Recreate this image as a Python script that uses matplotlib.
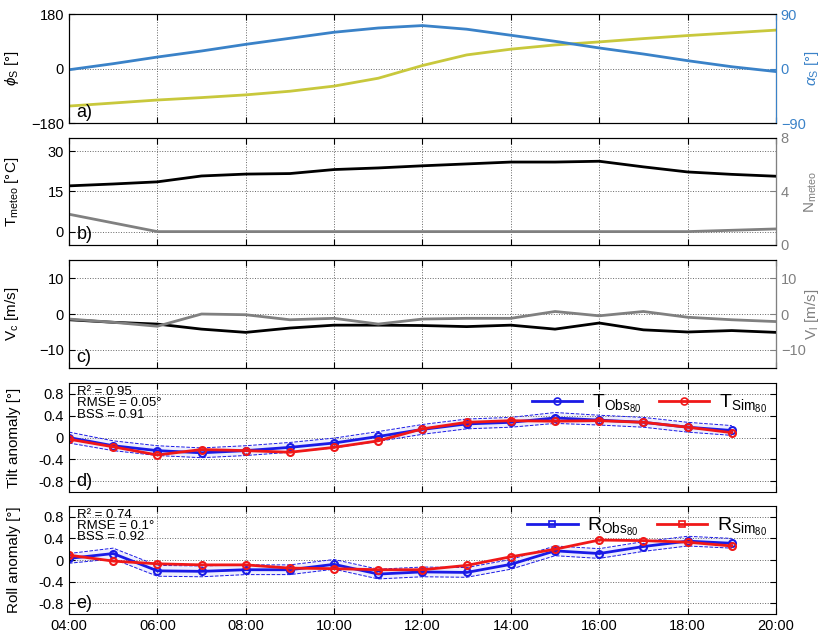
import matplotlib
matplotlib.use('Agg')
import matplotlib.pyplot as plt
from matplotlib.lines import Line2D

plt.rcParams['font.family'] = ['Liberation Sans', 'DejaVu Sans']
plt.rcParams['mathtext.fontset'] = 'custom'
plt.rcParams['mathtext.rm'] = 'Liberation Sans'
plt.rcParams['mathtext.it'] = 'Liberation Sans:italic'
plt.rcParams['mathtext.bf'] = 'Liberation Sans:bold'

# hourly values 04:00 .. 20:00
hours = [4, 5, 6, 7, 8, 9, 10, 11, 12, 13, 14, 15, 16, 17, 18, 19, 20]
sun_azimuth = [-124, -114, -104, -96, -87, -75, -58, -32, 10, 45, 64, 78, 88, 99, 109, 118, 127]
sun_elevation = [-2, 8, 19, 29, 40, 50, 60, 67, 71, 65, 55, 45, 34, 24, 13, 3, -5]
t_meteo = [17.1, 17.8, 18.6, 20.8, 21.5, 21.7, 23.2, 23.8, 24.6, 25.3, 26.0, 26.0, 26.3, 24.2, 22.3, 21.4, 20.7]
n_meteo = [2.3, 1.65, 1.0, 1.0, 1.0, 1.0, 1.0, 1.0, 1.0, 1.0, 1.0, 1.0, 1.0, 1.0, 1.0, 1.1, 1.2]
v_c = [-1.6, -2.3, -2.8, -4.2, -5.1, -3.9, -3.1, -3.1, -3.2, -3.5, -3.1, -4.2, -2.5, -4.4, -5.0, -4.6, -5.1]
v_l = [-1.4, -2.3, -3.4, 0.0, -0.2, -1.6, -1.2, -2.8, -1.4, -1.2, -1.2, 0.7, -0.5, 0.7, -0.9, -1.6, -2.1]

# anomalies 04:00 .. 19:00
obs_hours = [4, 5, 6, 7, 8, 9, 10, 11, 12, 13, 14, 15, 16, 17, 18, 19]
tilt_obs = [0.0, -0.15, -0.24, -0.28, -0.24, -0.18, -0.10, 0.02, 0.15, 0.25, 0.28, 0.36, 0.32, 0.28, 0.19, 0.13]
tilt_sim = [-0.03, -0.17, -0.32, -0.22, -0.24, -0.27, -0.18, -0.06, 0.16, 0.28, 0.31, 0.30, 0.31, 0.28, 0.19, 0.09]
tilt_err = [0.10, 0.09, 0.09, 0.09, 0.09, 0.09, 0.09, 0.09, 0.09, 0.09, 0.09, 0.10, 0.09, 0.09, 0.09, 0.09]
roll_obs = [0.03, 0.12, -0.20, -0.21, -0.18, -0.18, -0.08, -0.26, -0.22, -0.23, -0.08, 0.17, 0.12, 0.25, 0.35, 0.31]
roll_sim = [0.09, -0.02, -0.07, -0.09, -0.09, -0.15, -0.16, -0.18, -0.18, -0.10, 0.06, 0.20, 0.37, 0.36, 0.33, 0.26]
roll_err = [0.09, 0.10, 0.10, 0.10, 0.09, 0.09, 0.09, 0.09, 0.09, 0.09, 0.09, 0.09, 0.09, 0.09, 0.09, 0.09]

tilt_stats = 'R² = 0.95\nRMSE = 0.05°\nBSS = 0.91'
roll_stats = 'R² = 0.74\nRMSE = 0.1°\nBSS = 0.92'

YELLOW = '#c8c83c'
SKY = '#3a82c8'
GREY = '#808080'
BLUE = '#1a1ae6'
RED = '#f01818'

fig = plt.figure(figsize=(8.24, 6.37), dpi=100)
L, W = 0.0837, 0.858
rows = [(0.8069, 0.171), (0.6154, 0.168), (0.4223, 0.1695), (0.2276, 0.171), (0.0361, 0.1695)]
axes = [fig.add_axes([L, b, W, h]) for b, h in rows]


def style(ax, ylim, yticks, ylabels=None):
    ax.set_xlim(4, 20)
    ax.set_xticks(range(4, 21, 2))
    ax.set_ylim(*ylim)
    ax.set_yticks(yticks)
    if ylabels is not None:
        ax.set_yticklabels(ylabels)
    ax.grid(True, ls=':', color='#666666', lw=0.7)
    ax.tick_params(direction='in', top=True, right=True, length=4, labelsize=10.5)
    ax.yaxis.set_label_coords(-0.068, 0.5)
    for s in ax.spines.values():
        s.set_linewidth(0.8)


def twin(ax, ylim, yticks, color, label):
    tw = ax.twinx()
    tw.set_ylim(*ylim)
    tw.set_yticks(yticks)
    tw.tick_params(axis='y', direction='in', length=4, colors=color, labelsize=10.5)
    tw.spines['right'].set_color(color)
    tw.set_ylabel(label, color=color, fontsize=11)
    tw.yaxis.set_label_coords(1.038, 0.5)
    return tw


def panel_label(ax, s):
    ax.text(0.011, 0.02, s, transform=ax.transAxes, fontsize=13, va='bottom', ha='left')


# a) sun position
ax = axes[0]
style(ax, (-180, 180), [-180, 0, 180])
ax.plot(hours, sun_azimuth, color=YELLOW, lw=2)
ax.set_ylabel(r'$\phi_{\rm S}$ [°]', fontsize=11)
tw = twin(ax, (-90, 90), [-90, 0, 90], SKY, r'$\alpha_{\rm S}$ [°]')
tw.plot(hours, sun_elevation, color=SKY, lw=2)
panel_label(ax, 'a)')

# b) meteo temperature / cloudiness
ax = axes[1]
style(ax, (-5, 35), [0, 15, 30])
ax.plot(hours, t_meteo, color='black', lw=2)
ax.set_ylabel(r'T$_{\rm meteo}$ [°C]', fontsize=11)
tw = twin(ax, (0, 8), [0, 4, 8], GREY, r'N$_{\rm meteo}$')
tw.plot(hours, n_meteo, color=GREY, lw=2)
panel_label(ax, 'b)')

# c) wind components
ax = axes[2]
style(ax, (-15, 15), [-10, 0, 10])
ax.plot(hours, v_c, color='black', lw=2)
ax.set_ylabel(r'V$_{\rm c}$ [m/s]', fontsize=11)
tw = twin(ax, (-15, 15), [-10, 0, 10], GREY, r'V$_{\rm l}$ [m/s]')
tw.plot(hours, v_l, color=GREY, lw=2)
panel_label(ax, 'c)')

anom_ticks = [-0.8, -0.4, 0, 0.4, 0.8]
anom_labels = ['-0.8', '-0.4', '0', '0.4', '0.8']


def anomaly(ax, obs, sim, err, stats, name, marker, label):
    style(ax, (-1, 1), anom_ticks, anom_labels)
    lo = [o - e for o, e in zip(obs, err)]
    hi = [o + e for o, e in zip(obs, err)]
    ax.fill_between(obs_hours, lo, hi, color=BLUE, alpha=0.07, lw=0)
    ax.plot(obs_hours, lo, color=BLUE, ls='--', lw=0.7)
    ax.plot(obs_hours, hi, color=BLUE, ls='--', lw=0.7)
    ax.plot(obs_hours, obs, color=BLUE, lw=2, marker='o', ms=5, mfc='none', mew=1.5)
    ax.plot(obs_hours, sim, color=RED, lw=2, marker='o', ms=5, mfc='none', mew=1.5)
    ax.set_ylabel(name, fontsize=11)
    ax.text(0.012, 0.97, stats, transform=ax.transAxes, fontsize=9.5, va='top',
            linespacing=0.9)
    handles = [Line2D([], [], color=BLUE, lw=2, marker=marker, ms=5, mfc='none', mew=1.2),
               Line2D([], [], color=RED, lw=2, marker=marker, ms=5, mfc='none', mew=1.2)]
    labels = [r'%s$_{{\rm Obs}_{80}}$' % label, r'%s$_{{\rm Sim}_{80}}$' % label]
    ax.legend(handles, labels, loc='upper right', bbox_to_anchor=(1.012, 1.07), ncol=2,
              frameon=False, fontsize=14, handlelength=2.6, columnspacing=0.9,
              handletextpad=0.5)


anomaly(axes[3], tilt_obs, tilt_sim, tilt_err, tilt_stats, 'Tilt anomaly [°]', 'o', 'T')
panel_label(axes[3], 'd)')
anomaly(axes[4], roll_obs, roll_sim, roll_err, roll_stats, 'Roll anomaly [°]', 's', 'R')
panel_label(axes[4], 'e)')

for ax in axes[:-1]:
    ax.set_xticklabels([])
axes[-1].set_xticklabels(['%02d:00' % h for h in range(4, 21, 2)])

fig.savefig('out.png', dpi=100)
